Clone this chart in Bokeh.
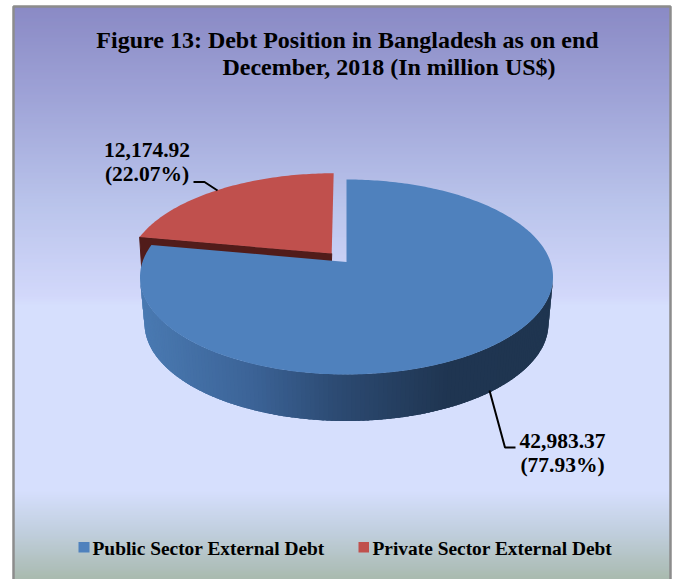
import math
from bokeh.core.properties import value
from bokeh.embed import file_html
from bokeh.models import Range1d
from bokeh.plotting import figure
from bokeh.resources import INLINE

# Debt figures, million US$
categories = ["Public Sector External Debt", "Private Sector External Debt"]
debt = [42983.37, 12174.92]
debt_labels = ["42,983.37", "12,174.92"]
share_labels = ["(77.93%)", "(22.07%)"]
title_lines = ["Figure 13: Debt Position in Bangladesh as on end", "December, 2018 (In million US$)"]
slice_colors = ["#4F81BD", "#C0504D"]

FONT = value("Liberation Serif")
W, H = 677, 579

p = figure(width=W, height=H, output_backend="svg", toolbar_location=None,
           x_range=Range1d(0, W), y_range=Range1d(H, 0), min_border=0,
           outline_line_color=None, background_fill_color="white", border_fill_color="white")
p.axis.visible = False
p.grid.visible = False


def lerp_stops(stops, t):
    for (a, ca), (b, cb) in zip(stops, stops[1:]):
        if t <= b:
            f = (t - a) / (b - a) if b > a else 0
            return "#%02x%02x%02x" % tuple(round(x + (y - x) * f) for x, y in zip(ca, cb))
    return "#%02x%02x%02x" % tuple(stops[-1][1])


# Panel background: vertical gradient built from one-pixel bands
panel_left, panel_right, panel_top = 13, 670, 6
bg_stops = [(6, (130, 130, 193)), (100, (153, 158, 213)), (200, (180, 191, 233)),
            (295, (207, 213, 250)), (305, (211, 221, 253)), (490, (211, 221, 253)),
            (530, (189, 204, 221)), (579, (163, 181, 169))]
rows = list(range(panel_top, H))
p.quad(left=panel_left, right=panel_right, top=rows, bottom=[r + 1 for r in rows],
       fill_color=[lerp_stops(bg_stops, r) for r in rows],
       line_color=[lerp_stops(bg_stops, r) for r in rows], line_width=0.5)
p.multi_line(xs=[[panel_left, panel_left, panel_right, panel_right]],
             ys=[[H, panel_top, panel_top, H]], line_color="#8C8C8C", line_width=2.5)

# Pie geometry: a unit disc seen in perspective
cx, cy, rx, ry = 346.0, 276.5, 206.5, 97.5
boost = 0.155
explode = 0.115


def project(u, v):
    den = 1 + boost * v
    return (cx + rx * u * math.sqrt(1 - boost ** 2) / den,
            cy - ry * (v + boost) / den)


def wedge(a0, a1, du=0.0, dv=0.0):
    n = max(2, int(abs(a1 - a0) / 1.0))
    pts = [project(du, dv)]
    for i in range(n + 1):
        a = math.radians(a0 + (a1 - a0) * i / n)
        pts.append(project(math.sin(a) + du, math.cos(a) + dv))
    return [q[0] for q in pts], [q[1] for q in pts]


total = sum(debt)
sweep_public = 360 * debt[0] / total
mid_private = math.radians(sweep_public + 180 * debt[1] / total)
du, dv = explode * math.sin(mid_private), explode * math.cos(mid_private)

# Private slice: pulled out, with its dark cut face showing
rxs, rys = wedge(sweep_public, 360, du, dv)
apex = (rxs[0], rys[0])
corner = (rxs[1], rys[1])
p.patch([corner[0], apex[0], apex[0] - 1, corner[0] + 2],
        [corner[1], apex[1], apex[1] + 30, corner[1] + 31], fill_color="#511C1A", line_color="#511C1A")
p.patch(rxs, rys, fill_color=slice_colors[1], line_color=None)

# Rim of the public slice: overlapping shaded strips between the upper and lower outlines
low_cy, low_rx, low_ry = 323.0, 202.0, 97.5
rim_stops = [(139, (74, 122, 178)), (250, (60, 100, 152)), (340, (44, 74, 114)),
             (450, (31, 53, 81)), (553, (31, 53, 80))]
steps = 140
sx, sy, sc = [], [], []
for i in range(steps):
    t0 = math.pi * i / steps
    t1 = math.pi * min(i + 2.5, steps) / steps
    top0 = (cx + rx * math.cos(t0), cy + ry * math.sin(t0))
    top1 = (cx + rx * math.cos(t1), cy + ry * math.sin(t1))
    low0 = (cx + low_rx * math.cos(t0), low_cy + low_ry * math.sin(t0))
    low1 = (cx + low_rx * math.cos(t1), low_cy + low_ry * math.sin(t1))
    sx.append([top0[0], top1[0], low1[0], low0[0]])
    sy.append([top0[1], top1[1], low1[1], low0[1]])
    sc.append(lerp_stops(rim_stops, top0[0]))
p.patches(sx, sy, fill_color=sc, line_color=None)

bxs, bys = wedge(0, sweep_public)
p.patch(bxs, bys, fill_color=slice_colors[0], line_color=None)

# Leader lines
p.multi_line(xs=[[489, 504.5, 515], [193, 204, 217]], ys=[[390, 447, 447], [181.5, 181.5, 190]],
             line_color="black", line_width=2)

# Title and data labels
p.text(x=[347, 388.5], y=[39, 66], text=title_lines, text_font=FONT, text_font_style="bold",
       text_font_size="24px", text_align="center", text_baseline="alphabetic", text_color="black")
p.text(x=[146.5, 146.5], y=[149.5, 173.5], text=[debt_labels[1], share_labels[1]], text_font=FONT,
       text_font_style="bold", text_font_size="21.5px", text_align="center",
       text_baseline="alphabetic", text_color="black")
p.text(x=[562, 562], y=[440, 464], text=[debt_labels[0], share_labels[0]], text_font=FONT,
       text_font_style="bold", text_font_size="21.5px", text_align="center",
       text_baseline="alphabetic", text_color="black")

# Legend
p.quad(left=[78, 358], right=[89, 368.5], top=[541.5, 541.5], bottom=[552, 552],
       fill_color=slice_colors, line_color=None)
p.text(x=[92, 372], y=[547.5, 547.5], text=categories, text_font=FONT, text_font_style="bold",
       text_font_size="19.4px", text_align="left", text_baseline="alphabetic", text_color="black")

open("out.html", "w").write(file_html(p, INLINE))
